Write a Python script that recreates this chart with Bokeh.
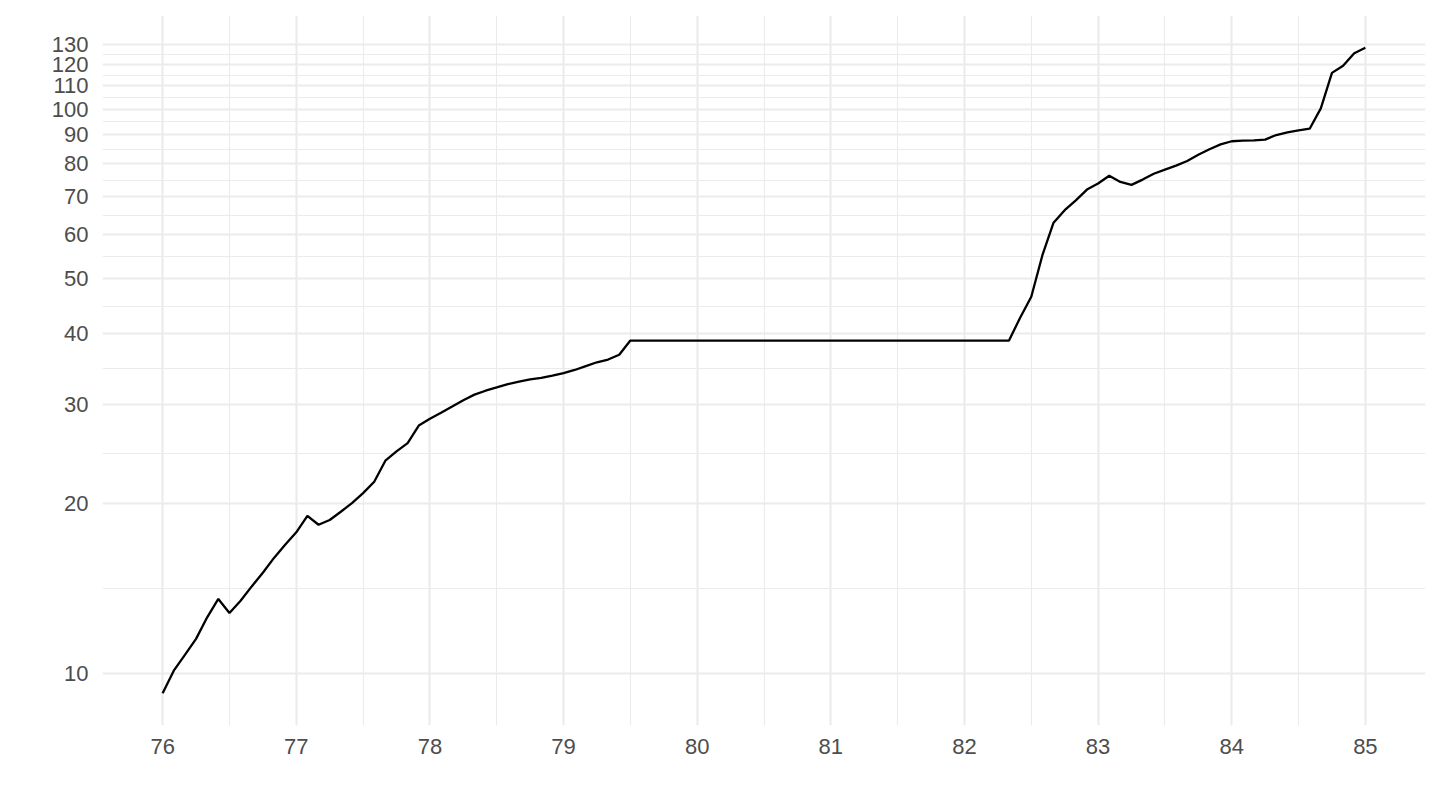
import math
from bokeh.plotting import figure
from bokeh.models import FixedTicker, Range1d, PrintfTickFormatter
from bokeh.embed import file_html
from bokeh.resources import INLINE

# monthly observations, 1976-01 .. 1985-01 (x in fractional years)
months = list(range(0, 109))
values = [
    9.23, 10.12, 10.79, 11.52, 12.58, 13.56, 12.80, 13.46, 14.27, 15.09, 16.03, 16.91,
    17.79, 19.02, 18.35, 18.71, 19.35, 20.05, 20.88, 21.87, 23.83, 24.75, 25.6, 27.5,
    28.27, 28.97, 29.72, 30.5, 31.2, 31.7, 32.13, 32.57, 32.9, 33.2, 33.4, 33.7,
    34.05, 34.5, 35.05, 35.6, 36.0, 36.7, 38.9, 38.9, 38.9, 38.9, 38.9, 38.9,
    38.9, 38.9, 38.9, 38.9, 38.9, 38.9, 38.9, 38.9, 38.9, 38.9, 38.9, 38.9,
    38.9, 38.9, 38.9, 38.9, 38.9, 38.9, 38.9, 38.9, 38.9, 38.9, 38.9, 38.9,
    38.9, 38.9, 38.9, 38.9, 38.9, 42.7, 46.5, 55.1, 62.9, 66.2, 68.9, 72.0,
    73.8, 76.2, 74.3, 73.4, 75.0, 76.8, 78.1, 79.4, 80.9, 83.0, 84.9, 86.6,
    87.7, 87.9, 88.0, 88.3, 89.95, 90.9, 91.7, 92.3, 100.3, 115.9, 119.3, 125.6,
    128.4,
]
start_year = 76
x_vals = [start_year + m / 12 for m in months]

x_ticks = [76, 77, 78, 79, 80, 81, 82, 83, 84, 85]
y_ticks = [10, 20, 30, 40, 50, 60, 70, 80, 90, 100, 110, 120, 130]

# ggplot-like minor breaks (midpoints; log-space for y)
x_minor = [(a + b) / 2 for a, b in zip(x_ticks[:-1], x_ticks[1:])]
y_minor = [math.sqrt(a * b) for a, b in zip(y_ticks[:-1], y_ticks[1:])]

# 5% expansion of data range
xr = max(x_vals) - min(x_vals)
x_lo, x_hi = min(x_vals) - 0.05 * xr, max(x_vals) + 0.05 * xr
ly_lo, ly_hi = math.log10(min(values)), math.log10(max(values))
lr = ly_hi - ly_lo
y_lo, y_hi = 10 ** (ly_lo - 0.05 * lr), 10 ** (ly_hi + 0.05 * lr)

p = figure(width=1440, height=810, y_axis_type="log",
           x_range=Range1d(x_lo, x_hi), y_range=Range1d(y_lo, y_hi),
           output_backend="svg", toolbar_location=None,
           min_border_left=102, min_border_right=15, min_border_top=15, min_border_bottom=85)
p.outline_line_color = None
p.background_fill_color = "white"
p.border_fill_color = "white"

xt = FixedTicker(ticks=x_ticks, minor_ticks=x_minor)
yt = FixedTicker(ticks=y_ticks, minor_ticks=y_minor)
p.xaxis.ticker = xt
p.yaxis.ticker = yt
p.xgrid.ticker = xt
p.ygrid.ticker = yt
p.yaxis.formatter = PrintfTickFormatter(format="%d")
p.xaxis.formatter = PrintfTickFormatter(format="%d")

for ax in (p.xaxis, p.yaxis):
    ax.axis_line_color = None
    ax.major_tick_line_color = None
    ax.minor_tick_line_color = None
    ax.major_tick_out = 0
    ax.major_tick_in = 0
    ax.minor_tick_out = 0
    ax.minor_tick_in = 0
    ax.major_label_text_font = "Liberation Sans"
    ax.major_label_text_font_size = "22px"
    ax.major_label_text_color = "#4D4D4D"
p.yaxis.major_label_standoff = 14
p.xaxis.major_label_standoff = 13

for g in (p.xgrid, p.ygrid):
    g.grid_line_color = "#EBEBEB"
    g.grid_line_width = 2.1
    g.minor_grid_line_color = "#EBEBEB"
    g.minor_grid_line_width = 1.1

p.line(x_vals, values, line_color="black", line_width=2.3)

open("out.html", "w").write(file_html(p, INLINE))
